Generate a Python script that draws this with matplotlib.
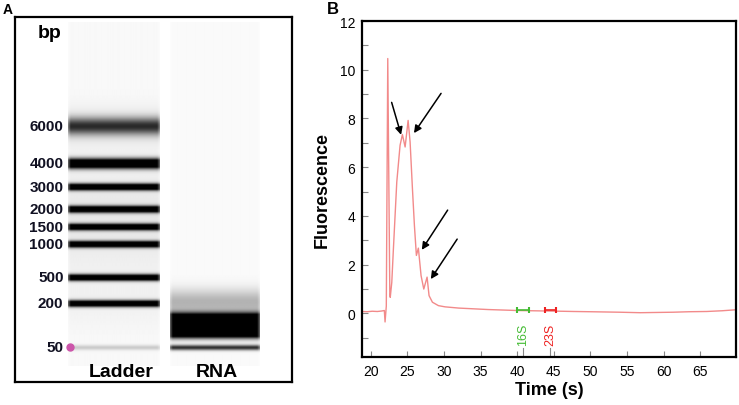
import matplotlib
matplotlib.use('Agg')
import matplotlib.pyplot as plt
import numpy as np

plt.rcParams['font.family'] = ['Liberation Sans', 'DejaVu Sans']

# --- panel A: gel (positions are migration distance in gel units) ---
ladder_labels = ['6000', '4000', '3000', '2000', '1500', '1000', '500', '200', '50']
ladder_pos = [127, 164.3, 187.7, 210, 227.7, 245, 278.3, 304.3, 348.3]
ladder_sigma = [6.0, 3.4, 2.3, 2.3, 2.2, 2.2, 2.2, 2.2, 1.8]
ladder_dark = [0.74, 1.6, 1.5, 1.5, 1.5, 1.5, 1.5, 1.5, 0.18]

rna_pos = [303, 319, 327, 334, 348.3]
rna_sigma = [9, 4.0, 4.0, 3.6, 1.9]
rna_dark = [0.28, 1.4, 1.6, 1.4, 0.8]

# --- panel B: electropherogram ---
time_s = [18.8, 19.5, 20.2, 20.9, 21.5, 21.85, 21.95, 22.12, 22.32, 22.6, 22.66,
          22.87, 23.09, 23.55, 24.0, 24.32, 24.69, 25.1, 25.37, 25.69, 25.96,
          26.23, 26.5, 26.87, 27.24, 27.69, 27.96, 28.42, 29.24, 30.15, 32.0,
          34.0, 36.0, 38.0, 40.0, 42.0, 44.0, 46.0, 47.7, 50.0, 52.0, 54.0,
          56.8, 59.0, 61.3, 63.5, 65.9, 68.0, 69.85]
fluor = [0.08, 0.07, 0.09, 0.08, 0.1, 0.12, -0.35, 0.3, 10.46, 0.8, 0.66,
         1.28, 2.65, 5.39, 6.9, 7.34, 6.83, 7.92, 7.04, 5.12, 3.61,
         2.38, 2.68, 1.55, 1.0, 1.49, 0.73, 0.46, 0.32, 0.27, 0.22,
         0.19, 0.16, 0.14, 0.12, 0.11, 0.1, 0.09, 0.08, 0.07, 0.06, 0.05,
         0.03, 0.04, 0.05, 0.07, 0.08, 0.11, 0.15]

arrow_tails = [(22.85, 8.66), (29.6, 9.03), (30.5, 4.24), (31.8, 3.05)]
arrow_heads = [(24.14, 7.33), (25.9, 7.4), (26.97, 2.61), (28.2, 1.41)]

marker_names = ['16S', '23S']
marker_start = [39.95, 43.8]
marker_end = [41.55, 45.3]
marker_colors = ['#44bb33', '#ee2222']

W, H = 739, 406
fig = plt.figure(figsize=(W / 100, H / 100), dpi=100)

# ---------------- panel A ----------------
axA = fig.add_axes([15 / W, (H - 383.3) / H, (291.7 - 15) / W, (383.3 - 18.3) / H])
axA.set_xlim(15, 291.7)
axA.set_ylim(383.3, 18.3)
axA.set_xticks([])
axA.set_yticks([])
for s in axA.spines.values():
    s.set_linewidth(1.6)

yy = np.arange(23, 367, 0.5)


def lane_image(pos, sig, dark, bg, x0, x1):
    prof = np.full_like(yy, bg)
    for p, s, d in zip(pos, sig, dark):
        prof += d * np.exp(-0.5 * ((yy - p) / s) ** 2)
    prof = np.clip(prof, 0, 1)
    xx = np.linspace(x0, x1, 200)
    h = np.clip((xx - x0) / 2.5, 0, 1) * np.clip((x1 - xx) / 2.5, 0, 1)
    h = 0.6 + 0.4 * h
    img = prof[:, None] * h[None, :]
    axA.imshow(img, cmap='gray_r', vmin=0, vmax=1, extent=(x0, x1, 367, 23),
               aspect='auto', interpolation='bilinear')


# ladder lane: bands plus faint haze
lad_haze_pos = [127, 200, 240, 300]
lad_haze_sig = [14, 30, 25, 20]
lad_haze_dark = [0.07, 0.05, 0.04, 0.03]
lane_image(ladder_pos + lad_haze_pos, ladder_sigma + lad_haze_sig,
           ladder_dark + lad_haze_dark, 0.025, 68.3, 159.3)
lane_image(rna_pos, rna_sigma, rna_dark, 0.02, 170, 259.3)

axA.plot(70, 348.3, 'o', color='#cc55aa', ms=5, zorder=5)

axA.text(50, 33, 'bp', fontsize=14, fontweight='bold', ha='center', va='center')
for lab, p in zip(ladder_labels, ladder_pos):
    axA.text(63.5, p, lab, fontsize=11, fontweight='bold', ha='right', va='center',
             color='#111122')
axA.text(120.7, 372.5, 'Ladder', fontsize=14, fontweight='bold', ha='center', va='center')
axA.text(216.7, 372.5, 'RNA', fontsize=14, fontweight='bold', ha='center', va='center')

fig.text(3 / W, 1 - 10 / H, 'A', fontsize=10, fontweight='bold', va='center', ha='left')
fig.text(327 / W, 1 - 9 / H, 'B', fontsize=12, fontweight='bold', va='center', ha='left')

# ---------------- panel B ----------------
axB = fig.add_axes([362 / W, (H - 358.3) / H, (735.7 - 362) / W, (358.3 - 22) / H])
axB.plot(time_s, fluor, color='#f28a8a', lw=1.0)
axB.set_xlim(18.8, 69.85)
axB.set_ylim(-1.8, 12.0)
axB.set_xticks(np.arange(20, 70, 5))
axB.set_yticks(np.arange(0, 13, 2))
axB.set_yticks(np.arange(-1, 12, 2), minor=True)
axB.tick_params(direction='in', color='#888888', length=4, width=0.8,
                labelsize=10, pad=5)
axB.tick_params(which='minor', direction='in', color='#888888', length=4, width=0.8)
for s in axB.spines.values():
    s.set_linewidth(1.6)
axB.set_xlabel('Time (s)', fontsize=13, fontweight='bold', labelpad=2)
axB.set_ylabel('Fluorescence', fontsize=13, fontweight='bold', labelpad=6)

for t, h in zip(arrow_tails, arrow_heads):
    axB.annotate('', xy=h, xytext=t,
                 arrowprops=dict(arrowstyle='-|>', color='black', lw=1.1,
                                 mutation_scale=11, shrinkA=0, shrinkB=0))

for name, a, b, c in zip(marker_names, marker_start, marker_end, marker_colors):
    axB.plot([a, b], [0.15, 0.15], color=c, lw=1.2, marker='|', ms=5, mew=1.5)
    mid = (a + b) / 2
    axB.text(mid, -0.82, name, color=c, fontsize=9, rotation=90,
             ha='center', va='center')
    axB.plot([mid, mid], [-1.4, -1.72], color='#888888', lw=0.8)

fig.savefig('out.png', dpi=100)
